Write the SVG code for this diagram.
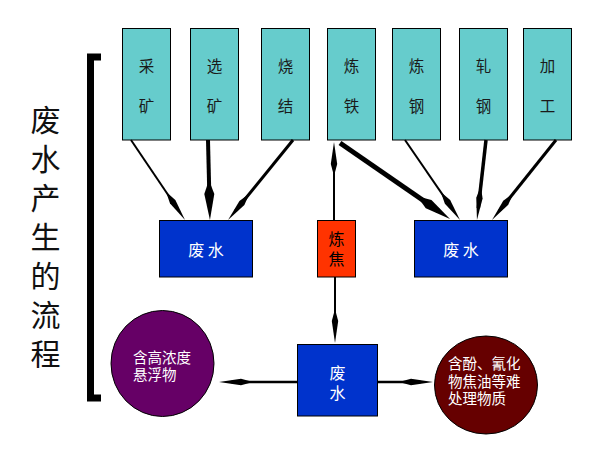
<svg xmlns="http://www.w3.org/2000/svg" width="597" height="449" viewBox="0 0 597 449">
<style>
.top{fill:#66CCCC;stroke:#000;stroke-width:1}
.blue{fill:#0033CC;stroke:#000;stroke-width:1}
.t{font-family:"Noto Sans CJK SC","Noto Sans CJK JP",sans-serif;text-anchor:middle}
.tt{font-size:15.5px;fill:#1a1a1a}
.w{fill:#fff}
.c{font-family:"Noto Sans CJK SC","Noto Sans CJK JP",sans-serif;font-size:14.5px;fill:#fff}
.ln{stroke:#000;fill:none}
</style>
<defs>
<marker id="ah" markerUnits="userSpaceOnUse" orient="auto" overflow="visible" markerWidth="1" markerHeight="1" refX="0" refY="0">
<path d="M12,0 L-10,-3.2 L-22,0 L-10,3.2 Z" fill="#000"/>
</marker>
<marker id="ahb" markerUnits="userSpaceOnUse" orient="auto" overflow="visible" markerWidth="1" markerHeight="1" refX="0" refY="0">
<path d="M14,0 L-12,-5 L-26,0 L-12,5 Z" fill="#000"/>
</marker>
</defs>
<rect width="597" height="449" fill="#fff"/>
<g id="title">
<path d="M101,57 H90.5 V398 H101" fill="none" stroke="#000" stroke-width="7"/>
<text class="t" font-size="30" fill="#111" x="45.5" y="131">废<tspan x="45.5" dy="39">水</tspan><tspan x="45.5" dy="39">产</tspan><tspan x="45.5" dy="39">生</tspan><tspan x="45.5" dy="39">的</tspan><tspan x="45.5" dy="39">流</tspan><tspan x="45.5" dy="39">程</tspan></text>
</g>
<g id="n1"><rect class="top" x="122.5" y="28.5" width="48" height="111.5"/><text class="t tt" x="146.5" y="72">采</text><text class="t tt" x="146.5" y="112">矿</text></g>
<g id="n2"><rect class="top" x="190.5" y="28.5" width="48" height="111.5"/><text class="t tt" x="214.5" y="72">选</text><text class="t tt" x="214.5" y="112">矿</text></g>
<g id="n3"><rect class="top" x="261.5" y="28.5" width="48" height="111.5"/><text class="t tt" x="285.5" y="72">烧</text><text class="t tt" x="285.5" y="112">结</text></g>
<g id="n4"><rect class="top" x="327.5" y="28.5" width="48" height="111.5"/><text class="t tt" x="351.5" y="72">炼</text><text class="t tt" x="351.5" y="112">铁</text></g>
<g id="n5"><rect class="top" x="392.5" y="28.5" width="48" height="111.5"/><text class="t tt" x="416.5" y="72">炼</text><text class="t tt" x="416.5" y="112">钢</text></g>
<g id="n6"><rect class="top" x="459.5" y="28.5" width="48" height="111.5"/><text class="t tt" x="483.5" y="72">轧</text><text class="t tt" x="483.5" y="112">钢</text></g>
<g id="n7"><rect class="top" x="523.5" y="28.5" width="48" height="111.5"/><text class="t tt" x="547.5" y="72">加</text><text class="t tt" x="547.5" y="112">工</text></g>
<g id="w1"><rect class="blue" x="159.5" y="220.5" width="93" height="56.5"/><text class="t w" font-size="16" x="206" y="256">废 水</text></g>
<g id="coke"><rect x="317.5" y="220.5" width="38" height="56.5" fill="#FF3300" stroke="#000" stroke-width="1"/><text class="t" font-size="16" fill="#000" x="336.5" y="245">炼</text><text class="t" font-size="16" fill="#000" x="336.5" y="265">焦</text></g>
<g id="w2"><rect class="blue" x="414.5" y="220.5" width="93" height="56.5"/><text class="t w" font-size="16" x="461" y="256">废 水</text></g>
<g id="w3"><rect class="blue" x="297.5" y="344.5" width="80" height="71.5"/><text class="t w" font-size="16" x="337.5" y="379">废</text><text class="t w" font-size="16" x="337.5" y="399">水</text></g>
<g id="s1"><ellipse cx="162.5" cy="363.5" rx="51.5" ry="53" fill="#660066" stroke="#000" stroke-width="1"/><text class="c" x="133" y="363">含高浓度</text><text class="c" x="133" y="380">悬浮物</text></g>
<g id="s2"><ellipse cx="486" cy="385" rx="51.5" ry="49" fill="#660000" stroke="#000" stroke-width="1"/><text class="c" x="448" y="369">含酚、氰化</text><text class="c" x="448" y="387">物焦油等难</text><text class="c" x="448" y="404">处理物质</text></g>
<g id="connectors">
<line class="ln" x1="131" y1="140" x2="178.3" y2="210" stroke-width="2" marker-end="url(#ah)"/>
<line class="ln" x1="208" y1="140" x2="209.6" y2="206" stroke-width="4" marker-end="url(#ahb)"/>
<line class="ln" x1="293" y1="140" x2="235.6" y2="210.7" stroke-width="3" marker-end="url(#ah)"/>
<line class="ln" x1="334" y1="220" x2="334" y2="154" stroke-width="2" marker-end="url(#ah)"/>
<line class="ln" x1="340" y1="143" x2="438.5" y2="211" stroke-width="5" marker-end="url(#ahb)"/>
<line class="ln" x1="405" y1="140" x2="453.2" y2="210.1" stroke-width="2" marker-end="url(#ah)"/>
<line class="ln" x1="486" y1="140" x2="478.3" y2="208.1" stroke-width="3.5" marker-end="url(#ah)"/>
<line class="ln" x1="556" y1="140" x2="499.5" y2="210.6" stroke-width="3" marker-end="url(#ah)"/>
<line class="ln" x1="335" y1="277" x2="335" y2="331" stroke-width="2" marker-end="url(#ah)"/>
<line class="ln" x1="297" y1="382" x2="231" y2="382" stroke-width="2.5" marker-end="url(#ah)"/>
<line class="ln" x1="377" y1="382" x2="421" y2="382" stroke-width="2.5" marker-end="url(#ah)"/>
</g>
</svg>
